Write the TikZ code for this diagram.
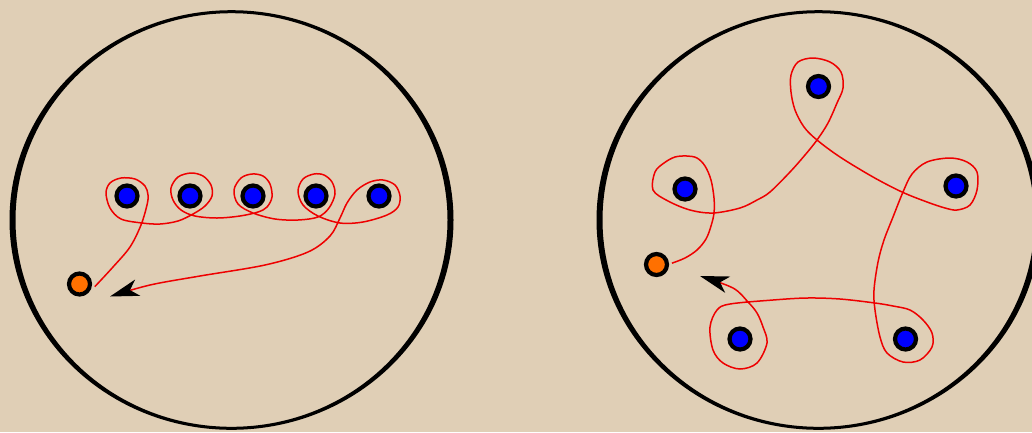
\documentclass[tikz,border=0pt]{standalone}
\usetikzlibrary{arrows.meta}
\definecolor{bg}{RGB}{224,207,182}
\definecolor{dotblue}{RGB}{0,0,255}
\definecolor{dotorange}{RGB}{255,112,0}
\definecolor{pathred}{RGB}{238,0,0}
\begin{document}
\begin{tikzpicture}[x=1pt,y=-1pt,
  bdot/.style={circle,draw=black,line width=4.2pt,fill=dotblue,minimum size=21pt,inner sep=0pt,outer sep=5pt},
  odot/.style={bdot,fill=dotorange},
  braid/.style={draw=pathred,line width=1.5pt,line join=round,-{Stealth[length=29pt,width=17pt,inset=8pt,color=black]}},
  ring/.style={fill=black,even odd rule}]
\useasboundingbox (0,0) rectangle (1032,432);
\fill[bg] (0,0) rectangle (1032,432);
\clip (0,0) rectangle (1032,432);
% discs
\fill[ring] (231.5,220) ellipse [x radius=222, y radius=209.8]
            (231.5,220) ellipse [x radius=216, y radius=206.8];
\fill[ring] (818.5,220) ellipse [x radius=222, y radius=209.8]
            (818.5,220) ellipse [x radius=216, y radius=206.8];
% left points
\node[bdot] (l1) at (127,196) {};
\node[bdot] (l2) at (190,196) {};
\node[bdot] (l3) at (253,196) {};
\node[bdot] (l4) at (316,196) {};
\node[bdot] (l5) at (379,196) {};
\node[odot] (oL) at (79.5,284) {};
\coordinate (tipL) at (110,296.5);
% right points
\node[bdot] (r1) at (818.5,86.5) {};
\node[bdot] (r2) at (685,189) {};
\node[bdot] (r3) at (956,186) {};
\node[bdot] (r4) at (740,339) {};
\node[bdot] (r5) at (905.5,339) {};
\node[odot] (oR) at (656.5,264.5) {};
\coordinate (tipR) at (700,276);
% left braid path
\draw[braid] plot[smooth,tension=0.55] coordinates {
 (oL.-10) (113,267) (130,247) (141,225) (147,205) (148,195) (145,186) (135,179)
 (121,178) (110,183) (106,193) (110,208) (121,219) (142,223) (160,224) (178,221)
 (193,214) (205,206) (212,196) (211,185) (203,176) (191,173) (178,177) (171,188)
 (173,200) (181,210) (195,216) (217,218) (240,216) (258,212) (267,207) (272,197)
 (270,184) (263,176) (252,174) (241,178) (234,190) (238,204) (253,213) (275,219)
 (298,220) (318,217) (329,208) (335,194) (332,182) (324,175) (314,174) (303,179)
 (298,191) (303,205) (318,216) (340,223) (363,222) (387,215) (398,207) (400,196)
 (395,185) (383,180) (370,182) (357,190) (347,203) (340,218) (330,236) (308,252)
 (265,265) (200,276) (150,285) (tipL)};
% right braid path
\draw[braid] plot[smooth,tension=0.55] coordinates {
 (oR.5) (685,258) (697,250) (706,239) (711,226) (714,213) (714,198) (711,180)
 (705,166) (697,158) (687,156) (675,157) (664,163) (655,172) (653,190) (668,201)
 (690,210) (713,213) (740,208) (757,200) (770,192) (790,172) (805,155) (817,140)
 (828,123) (837,103) (843,88) (841,72) (830,62) (813,58) (798,62) (791,75)
 (791,92) (795,110) (804,127) (817,140) (840,157) (873,177) (902,192) (927,202)
 (945,208) (957,210) (970,205) (977,190) (977,172) (967,162) (950,158) (927,162)
 (912,174) (903,192) (893,217) (884,240) (878,262) (874,290) (875,310) (880,337)
 (887,353) (903,362) (920,360) (932,347) (932,333) (923,320) (910,310) (893,306)
 (875,303) (840,299) (807,298) (773,300) (730,304) (717,310) (710,327) (713,350)
 (723,363) (740,369) (757,363) (767,343) (763,327) (757,313) (748,302) (733,288)
 (tipR)};
\end{tikzpicture}
\end{document}
